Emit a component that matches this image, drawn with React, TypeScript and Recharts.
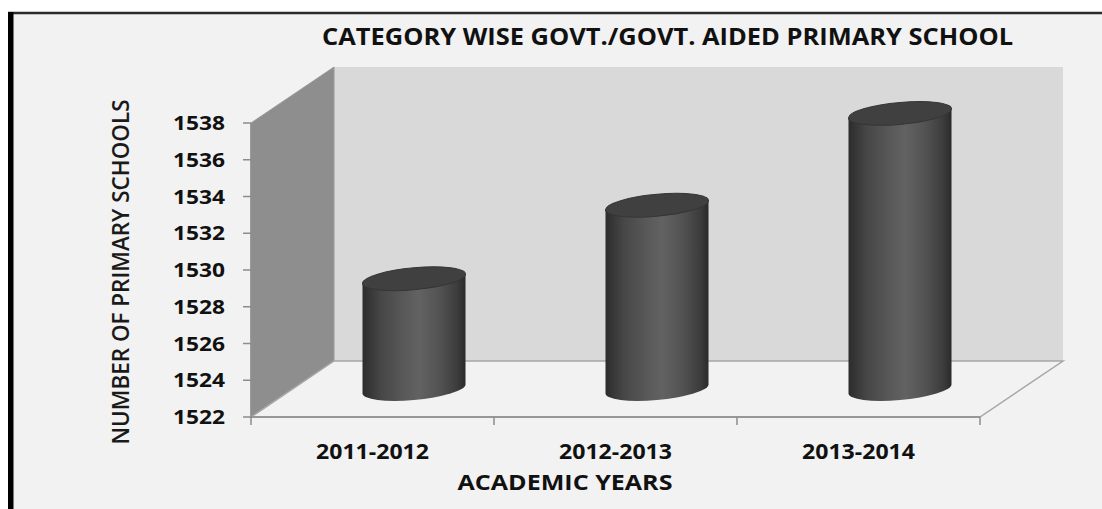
import React from 'react';
import { BarChart, Bar, XAxis, YAxis } from 'recharts';

const years = ['2011-2012', '2012-2013', '2013-2014'];
const schools = [1528, 1532, 1537];
const yTicks = [1522, 1524, 1526, 1528, 1530, 1532, 1534, 1536, 1538];

const data = years.map((year, i) => ({ year, schools: schools[i] }));

// front face of the 3d plot area and the depth offset of the back wall
const W = 1102;
const H = 509;
const LEFT = 251;
const RIGHT = 980;
const TOP = 123;
const BOTTOM = 417;
const DX = 83;
const DY = -56;
const Y_AXIS_W = 100;
const X_AXIS_H = 60;
const BAND = (RIGHT - LEFT) / years.length;

const FONT = '"Open Sans", "Liberation Sans", Arial, sans-serif';
const GRID = '#8c8c8c';

const YTick = (props: any) => {
  const { x, y, payload } = props;
  return (
    <text x={x} y={y + 7} textAnchor="end" fontFamily={FONT} fontWeight={700} fontSize={19.5}
      fill="#111" textLength={52} lengthAdjust="spacingAndGlyphs">
      {payload.value}
    </text>
  );
};

const XTick = (props: any) => {
  const { x, payload, index } = props;
  const left = x - BAND / 2;
  const right = x + BAND / 2;
  return (
    <g>
      <line x1={left} y1={BOTTOM} x2={left} y2={BOTTOM + 8} stroke={GRID} strokeWidth={1.5} />
      {index === years.length - 1 && (
        <line x1={right} y1={BOTTOM} x2={right} y2={BOTTOM + 8} stroke={GRID} strokeWidth={1.5} />
      )}
      <text x={x} y={BOTTOM + 42} textAnchor="middle" fontFamily={FONT} fontWeight={700} fontSize={21}
        fill="#111" textLength={113} lengthAdjust="spacingAndGlyphs">
        {payload.value}
      </text>
    </g>
  );
};

const Cylinder = (props: any) => {
  const { x, y, width, height, index } = props;
  const cx = x + width / 2 + DX / 2;
  const rx = width / 2;
  const ry = 11;
  const topY = y + DY / 2;
  const botY = y + height + DY / 2;
  const mid = (topY + botY) / 2;
  const id = `cyl-${index}`;
  const body = `M ${cx - rx} ${topY} L ${cx - rx} ${botY} A ${rx} ${ry} 0 0 0 ${cx + rx} ${botY} L ${cx + rx} ${topY} Z`;
  return (
    <g transform={`translate(${cx} ${mid}) skewY(-5) translate(${-cx} ${-mid})`}>
      <defs>
        <linearGradient id={id} x1="0" y1="0" x2="1" y2="0">
          <stop offset="0%" stopColor="#2c2c2c" />
          <stop offset="18%" stopColor="#474747" />
          <stop offset="42%" stopColor="#5a5a5a" />
          <stop offset="55%" stopColor="#626262" />
          <stop offset="75%" stopColor="#525252" />
          <stop offset="92%" stopColor="#3c3c3c" />
          <stop offset="100%" stopColor="#2a2a2a" />
        </linearGradient>
      </defs>
      <path d={body} fill={`url(#${id})`} />
      <ellipse cx={cx} cy={topY} rx={rx} ry={ry} fill="#404040" stroke="#363636" strokeWidth={1} />
    </g>
  );
};

const Backdrop = () => (
  <svg width={W} height={H} style={{ position: 'absolute', left: 0, top: 0 }}>
    <rect x={0} y={0} width={W} height={H} fill="#ffffff" />
    <rect x={8} y={12} width={W - 8} height={H - 12} fill="#f2f2f2" />
    <line x1={8} y1={13} x2={W} y2={13} stroke="#2b2b2b" strokeWidth={2.5} />
    <rect x={8} y={12} width={5.5} height={H - 12} fill="#000" />
    <polygon
      points={`${LEFT + DX},${TOP + DY} ${RIGHT + DX},${TOP + DY} ${RIGHT + DX},${BOTTOM + DY} ${LEFT + DX},${BOTTOM + DY}`}
      fill="#d9d9d9"
    />
    <polygon
      points={`${LEFT},${TOP} ${LEFT + DX},${TOP + DY} ${LEFT + DX},${BOTTOM + DY} ${LEFT},${BOTTOM}`}
      fill="#8e8e8e" stroke="#9a9a9a" strokeWidth={1}
    />
    <polygon
      points={`${LEFT},${BOTTOM} ${RIGHT},${BOTTOM} ${RIGHT + DX},${BOTTOM + DY} ${LEFT + DX},${BOTTOM + DY}`}
      fill="#f2f2f2" stroke="#a6a6a6" strokeWidth={1.5}
    />
    <text x={322} y={45} fontFamily={FONT} fontWeight={700} fontSize={23} fill="#111"
      textLength={691} lengthAdjust="spacingAndGlyphs">
      CATEGORY WISE GOVT./GOVT. AIDED PRIMARY SCHOOL
    </text>
    <text x={0} y={0} transform="translate(119 272) rotate(-90)" textAnchor="middle" dominantBaseline="central"
      fontFamily={FONT} fontWeight={600} fontSize={24} fill="#1a1a1a" textLength={345} lengthAdjust="spacingAndGlyphs">
      NUMBER OF PRIMARY SCHOOLS
    </text>
    <text x={565} y={490} textAnchor="middle" fontFamily={FONT} fontWeight={700} fontSize={22} fill="#111"
      textLength={215} lengthAdjust="spacingAndGlyphs">
      ACADEMIC YEARS
    </text>
  </svg>
);

export default function App() {
  return (
    <div style={{ position: 'absolute', left: 0, top: 0, width: W, height: H, overflow: 'hidden' }}>
      <Backdrop />
      <BarChart
        width={W}
        height={H}
        data={data}
        style={{ position: 'absolute', left: 0, top: 0 }}
        margin={{ top: TOP, right: W - RIGHT, bottom: H - BOTTOM - X_AXIS_H, left: LEFT - Y_AXIS_W }}
      >
        <XAxis dataKey="year" height={X_AXIS_H} axisLine={{ stroke: GRID, strokeWidth: 1.5 }} tickLine={false}
          tick={<XTick />} interval={0} />
        <YAxis width={Y_AXIS_W} domain={[1522, 1538]} ticks={yTicks} tickSize={8} tickMargin={18}
          axisLine={{ stroke: GRID, strokeWidth: 1.5 }} tickLine={{ stroke: GRID, strokeWidth: 1.5 }} tick={<YTick />} />
        <Bar dataKey="schools" barSize={103} shape={<Cylinder />} isAnimationActive={false} />
      </BarChart>
    </div>
  );
}
